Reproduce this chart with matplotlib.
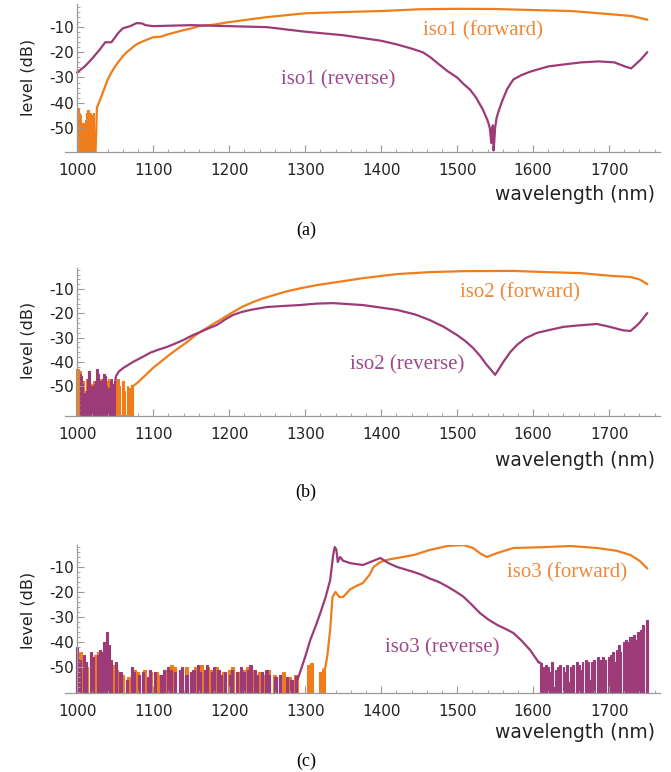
import numpy as np
import matplotlib
matplotlib.use("Agg")
import matplotlib.pyplot as plt
from matplotlib.ticker import MultipleLocator

plt.rcParams['font.family'] = ['DejaVu Sans']
plt.rcParams['axes.unicode_minus'] = False

ORANGE = '#F07D1C'
PURPLE = '#9C3B78'
ORANGE_TXT = '#F0883A'
PURPLE_TXT = '#A0488A'
FLOOR = -70

# ---------------- (a) iso1 ----------------
# noise: start, step, sampled levels (drawn as bars down to the floor)
a_fwd_noise = [-43, -42, -44, -45, -48, -49, -48, -47, -44, -43, -43, -44, -44, -45, -44, -62, -62]  # 1000.. step 1.5
a_fwd_x = [1026, 1030, 1035, 1040, 1045, 1050, 1055, 1060, 1065, 1070, 1075, 1080, 1090, 1100, 1110, 1120, 1130,
           1140, 1150, 1160, 1180, 1200, 1250, 1300, 1350, 1400, 1450, 1500, 1550, 1600, 1650, 1700, 1730, 1750]
a_fwd_y = [-42, -39, -35, -31, -28, -25.6, -23.5, -21.6, -20, -18.8, -17.5, -16.5, -15.2, -14, -13.8, -12.8, -12,
           -11.2, -10.5, -9.6, -9, -8, -6, -4.5, -4, -3.6, -2.9, -2.7, -2.8, -3.2, -3.6, -4.8, -5.6, -7]

a_rev_x = [1000, 1010, 1020, 1030, 1037, 1045, 1050, 1055, 1060, 1065, 1070, 1078, 1085, 1090, 1100, 1150, 1200,
           1250, 1300, 1350, 1400, 1420, 1440, 1455, 1465, 1475, 1488, 1500, 1510, 1517, 1525, 1534, 1540, 1543,
           1545, 1546, 1547, 1548, 1549, 1550, 1552, 1555, 1560, 1566, 1574, 1585, 1597, 1620, 1641, 1663, 1686,
           1707, 1720, 1729, 1742, 1750]
a_rev_y = [-28, -25.6, -22.4, -18.8, -16, -16, -14, -12, -10.5, -10, -9.6, -8.4, -8.5, -9.2, -9.6, -9.2, -9.6,
           -10, -11.8, -13.2, -15.4, -16.8, -18.5, -20, -22, -24.5, -27.6, -30, -33, -34.8, -38, -42.8, -47, -50,
           -56, -51, -49, -59, -55, -50, -46, -43, -38.8, -34.5, -30.8, -29, -27.6, -25.6, -24.8, -24, -23.6,
           -24, -25.5, -26.4, -22.8, -20]

# ---------------- (b) iso2 ----------------
b_fwd_noise = [-43, -43, -44, -50, -48, -52, -47, -50, -46, -49, -53, -48, -51, -50, -48, -47, -50, -51, -49, -48,
               -52, -47, -50, -49, -49, -48, -62, -47, -50, -62, -48, -52, -62, -50, -51, -62, -50]  # 1000.. step 2
b_fwd_x = [1074, 1080, 1090, 1100, 1110, 1122, 1135, 1145, 1155, 1166, 1177, 1188, 1205, 1218, 1232, 1245, 1259,
           1275, 1295, 1315, 1338, 1376, 1421, 1464, 1508, 1574, 1618, 1662, 1705, 1728, 1740, 1750]
b_fwd_y = [-50, -48.5, -45.5, -42.5, -40, -37, -34, -31.8, -29.2, -27, -24.8, -22.8, -19.5, -17.2, -15.3, -13.8,
           -12.5, -11, -9.6, -8.4, -7.3, -5.5, -3.8, -3, -2.6, -2.5, -3, -3.4, -4.6, -5, -6, -7.9]

b_rev_noise = [-62, -62, -62, -45, -46, -49, -53, -54, -52, -47, -44, -44, -55, -50, -51, -49, -48, -43, -43, -45,
               -48, -52, -47, -45, -45, -46, -50, -51, -56, -48, -47, -49, -50, -50]  # 1000.. step 1.5
b_rev_x = [1051, 1055, 1061, 1074, 1085, 1096, 1107, 1118, 1129, 1140, 1151, 1162, 1173, 1184, 1195, 1205, 1216,
           1228, 1250, 1270, 1293, 1315, 1337, 1376, 1421, 1445, 1464, 1482, 1500, 1511, 1521, 1530, 1539, 1545,
           1550, 1555, 1561, 1570, 1579, 1590, 1605, 1620, 1640, 1660, 1684, 1701, 1718, 1728, 1735, 1741, 1750]
b_rev_y = [-46, -44, -42.5, -40, -38.2, -36.3, -35, -33.9, -32.5, -31, -29.2, -27.7, -26.2, -24.8, -22.5, -20.7,
           -19.5, -18.6, -17.4, -17, -16.6, -16, -15.8, -16.6, -18.6, -20.5, -22.8, -25.5, -29, -31.5, -34.3, -37.5,
           -41.3, -43.5, -45.4, -43, -40, -36, -33, -30.3, -28.1, -27, -25.6, -25, -24.4, -25.6, -27, -27.3, -25.5,
           -23.6, -20]

# ---------------- (c) iso3 ----------------
c_fwd_noise = [-46, -44, -48, -50, -62, -47, -45, -44, -62, -47, -49, -62, -49, -51, -62, -53, -62, -54, -62, -51,
               -52, -62, -51, -62, -52, -62, -52, -53, -62, -51, -62, -49, -50, -62, -51, -62, -50, -62, -52, -50,
               -62, -49, -62, -50, -51, -62, -50, -62, -52, -62, -51, -50, -62, -52, -62, -51, -50, -62, -51, -62,
               -52, -53, -62, -51, -62, -53, -62, -53, -52, -62, -54, -62, -53, -62, -62, -62, -49, -48.5, -62, -62,
               -52, -51]  # 1000.. step 4
c_fwd_x = [1326, 1329, 1333, 1336, 1340, 1345, 1350, 1359, 1368, 1376, 1385, 1390, 1399, 1410, 1421, 1443, 1464,
           1487, 1508, 1521, 1530, 1539, 1553, 1574, 1600, 1618, 1649, 1684, 1710, 1728, 1740, 1750]
c_fwd_y = [-51, -46, -35, -22, -20, -22, -22, -19, -17.5, -16.4, -13, -10, -8, -7, -6.4, -5.2, -3.2,
           -1.6, -1.2, -2.4, -4.5, -6, -4.4, -2.4, -2.2, -2, -1.6, -2.4, -3.5, -5.2, -7.5, -10.5]

c_rev_noise = [-42, -47, -62, -45, -48, -62, -44, -46, -62, -45, -43, -44, -40, -36, -41, -47, -62, -48, -62, -52,
               -62, -62, -55, -62, -50, -52, -62, -53, -62, -52, -62, -54, -51, -62, -52, -62, -62, -53, -51, -62,
               -50, -51, -62, -52, -62, -51, -50, -62, -53, -62, -52, -51, -62, -49, -52, -62, -51, -49, -62, -52,
               -50, -62, -51, -53, -62, -52, -62, -53, -51, -62, -52, -62, -50, -52, -62, -51, -49, -62, -51, -53,
               -62, -52, -62, -51, -53, -62, -62, -54, -62, -53, -62, -62, -54, -62, -55, -62, -54]  # 1000.. step 3
c_rev_x = [1290, 1293, 1300, 1307, 1314, 1320, 1327, 1333, 1337, 1339, 1341, 1343, 1346, 1350, 1360, 1376, 1390,
           1399, 1410, 1421, 1432, 1443, 1454, 1464, 1476, 1487, 1498, 1508, 1519, 1530, 1541, 1553, 1564, 1574,
           1585, 1596, 1607]
c_rev_y = [-55, -52.4, -46, -39, -33.5, -28.4, -22, -15.2, -5, -2, -3, -8, -6, -7.5, -8.5, -9.2, -7.5,
           -6.4, -8.5, -10, -11, -12, -13.2, -14.6, -16, -17.8, -19.8, -21.8, -25, -28.4, -31, -33.2, -34.8, -36.4,
           -39.5, -43.2, -48]
c_rev_noise2 = [-48.5, -50, -62, -49, -50, -52, -48, -58, -51, -50, -49, -62, -50, -52, -49, -56, -50, -49, -62,
                -48, -49, -51, -48, -62, -47, -48, -55, -48, -47, -62, -46, -47, -50, -46, -47, -62, -46, -45, -44,
                -48, -43, -41, -44, -62, -40, -39, -40, -38, -38, -37, -39, -36, -36, -35, -33, -62, -31]  # 1610.. step 2.5


def draw_noise(ax, start, step, vals, color):
    x = start + step * np.arange(len(vals))
    y = np.array(vals, dtype=float)
    # one closed step polygon: every sample is a bar from its level down to the floor
    edges = np.concatenate([[x[0] - step / 2], x + step / 2])
    px = np.repeat(edges, 2)[1:-1]
    py = np.repeat(y, 2)
    px = np.concatenate([[edges[0]], px, [edges[-1]]])
    py = np.concatenate([[FLOOR], py, [FLOOR]])
    ax.fill(px, py, color=color, lw=0.8, ec=color)
    return x[-1], y[-1]


def draw_line(ax, xs, ys, color, first=None):
    xs, ys = list(xs), list(ys)
    if first is not None:
        xs = [first[0]] + xs
        ys = [first[1]] + ys
    ax.plot(xs, ys, color=color, lw=1.6, solid_joinstyle='round')
    return xs[-1], ys[-1]


W, H = 671, 772
fig = plt.figure(figsize=(W / 100, H / 100), dpi=100)


def make_axes(bottom_px, ylim):
    ax = fig.add_axes([65 / W, 1 - bottom_px / H, 595 / W, 148 / H])
    ax.set_xlim(984, 1767)
    ax.set_ylim(*ylim)
    for s in ['top', 'right']:
        ax.spines[s].set_visible(False)
    ax.spines['left'].set_position(('data', 1000))
    for s in ['left', 'bottom']:
        ax.spines[s].set_color('#9a9a9a')
        ax.spines[s].set_linewidth(0.9)
        ax.spines[s].set_zorder(5)
    ax.set_xticks(np.arange(1000, 1701, 100))
    ax.xaxis.set_minor_locator(MultipleLocator(20))
    ax.set_yticks([-10, -20, -30, -40, -50])
    ax.yaxis.set_minor_locator(MultipleLocator(2))
    ax.tick_params(which='both', direction='in', color='#9a9a9a', labelsize=11, labelcolor='#222222')
    ax.tick_params(which='major', length=5, width=0.8)
    ax.tick_params(which='minor', length=2.5, width=0.6)
    ax.tick_params(axis='x', pad=8)
    ax.tick_params(axis='y', pad=2)
    return ax


def decorate(ax, fwd_lab, rev_lab, wl_y, lev_y, cap, cap_y):
    t, x, y = fwd_lab
    ax.text(x, y, t, color=ORANGE_TXT, fontsize=15, family='Liberation Serif', ha='center', va='center')
    t, x, y = rev_lab
    ax.text(x, y, t, color=PURPLE_TXT, fontsize=15, family='Liberation Serif', ha='center', va='center')
    fig.text(655 / W, 1 - wl_y / H, 'wavelength (nm)', ha='right', va='center', fontsize=13.5, color='#222222')
    fig.text(28 / W, 1 - lev_y / H, 'level (dB)', ha='center', va='center', rotation=90,
             fontsize=11.5, color='#222222')
    fig.text(306 / W, 1 - cap_y / H, cap, ha='center', va='center', fontsize=13,
             family='Liberation Serif', color='black')


# (a)
ax = make_axes(152, (-59.6, -0.8))
end = draw_noise(ax, 1000, 1.5, a_fwd_noise, ORANGE)
draw_line(ax, a_fwd_x, a_fwd_y, ORANGE, first=end)
draw_line(ax, a_rev_x, a_rev_y, PURPLE)
decorate(ax, ('iso1 (forward)', 1534, -11.6), ('iso1 (reverse)', 1343, -30.8), 195, 77, '(a)', 230)

# (b)
ax = make_axes(416, (-62.4, -1.3))
end = draw_noise(ax, 1000, 2, b_fwd_noise, ORANGE)
draw_line(ax, b_fwd_x, b_fwd_y, ORANGE, first=end)
end = draw_noise(ax, 1000, 1.5, b_rev_noise, PURPLE)
draw_line(ax, b_rev_x, b_rev_y, PURPLE, first=end)
decorate(ax, ('iso2 (forward)', 1583, -11.6), ('iso2 (reverse)', 1434, -41.3), 460, 340, '(b)', 492)

# (c)
ax = make_axes(693, (-60.4, -1.2))
end = draw_noise(ax, 1000, 4, c_fwd_noise, ORANGE)
draw_line(ax, c_fwd_x, c_fwd_y, ORANGE, first=end)
end = draw_noise(ax, 1000, 3, c_rev_noise, PURPLE)
end = draw_line(ax, c_rev_x, c_rev_y, PURPLE, first=end)
draw_noise(ax, 1610, 2.5, c_rev_noise2, PURPLE)
ax.plot([end[0], 1610], [end[1], c_rev_noise2[0]], color=PURPLE, lw=1.6)
decorate(ax, ('iso3 (forward)', 1645, -12.4), ('iso3 (reverse)', 1480, -42.4), 732, 610, '(c)', 761)

fig.savefig('out.png', dpi=100)
